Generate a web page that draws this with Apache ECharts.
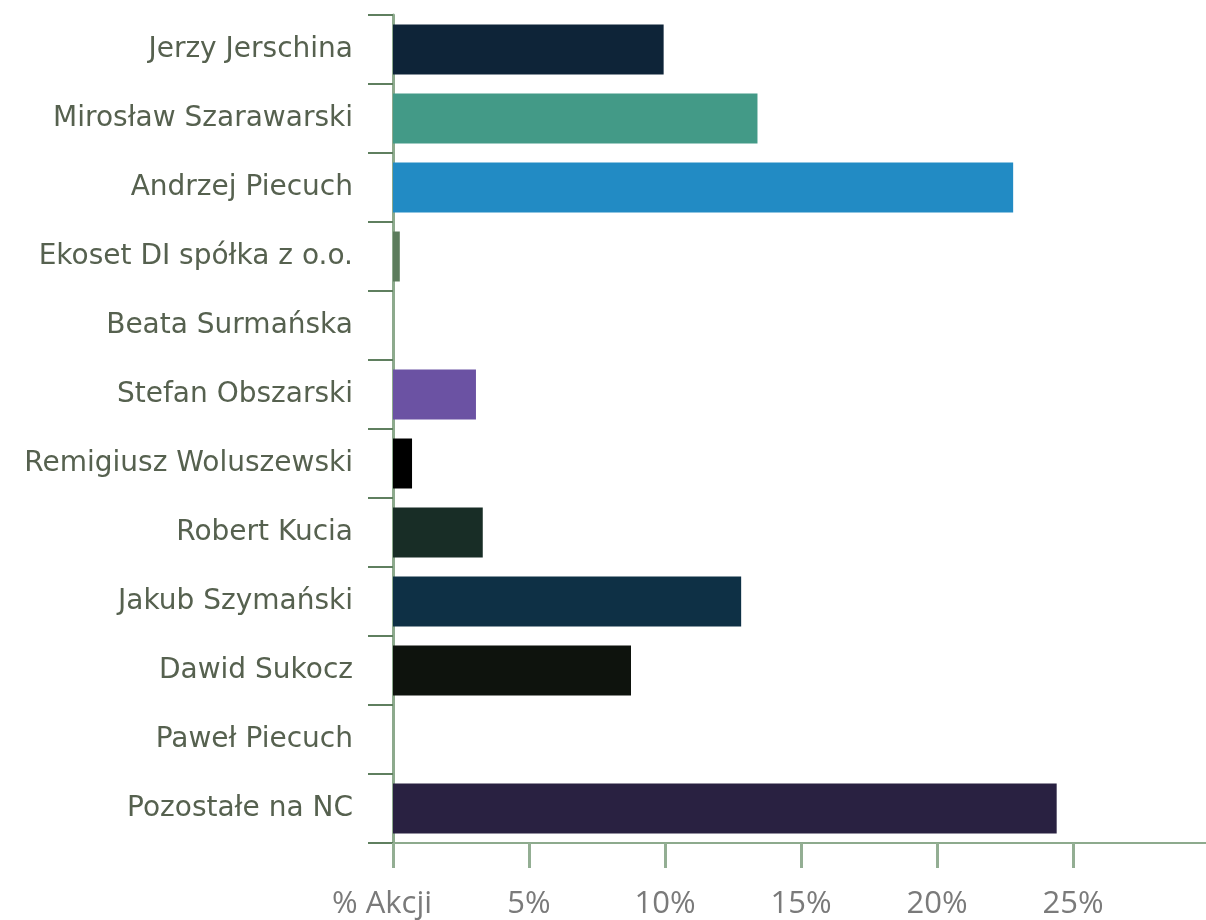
<!DOCTYPE html>
<html>
<head>
<meta charset="utf-8">
<script src="https://cdn.jsdelivr.net/npm/echarts@6/dist/echarts.min.js"></script>
<style>
  html, body { margin: 0; padding: 0; background: #fff; }
  #main { width: 1206px; height: 920px; }
</style>
</head>
<body>
<div id="main"></div>
<script>
// akcjonariusze
var names = ['Jerzy Jerschina', 'Mirosław Szarawarski', 'Andrzej Piecuch', 'Ekoset DI spółka z o.o.',
    'Beata Surmańska', 'Stefan Obszarski', 'Remigiusz Woluszewski', 'Robert Kucia',
    'Jakub Szymański', 'Dawid Sukocz', 'Paweł Piecuch', 'Pozostałe na NC'];
var shares = [9.95, 13.4, 22.8, 0.25, 0, 3.05, 0.7, 3.3, 12.8, 8.75, 0, 24.4];
var barColors = ['#0e2438', '#439a87', '#228bc4', '#5c7c5c', '#cccccc', '#6b52a3',
    '#000000', '#182d26', '#0e3045', '#0e130d', '#cccccc', '#292141'];
var tickLabels = { 0: '% Akcji', 5: '5%', 10: '10%', 15: '15%', 20: '20%', 25: '25%' };

var chart = echarts.init(document.getElementById('main'));

var option = {
    animation: false,
    grid: { left: 393, top: 15, width: 816, bottom: 77, containLabel: false, outerBoundsMode: 'none' },
    xAxis: {
        type: 'value',
        min: 0,
        max: 30,
        interval: 5,
        axisLine: { show: true, lineStyle: { color: '#8daa8d', width: 2 } },
        axisTick: { show: true, length: 25, lineStyle: { color: '#93ae93', width: 3 } },
        splitLine: { show: false },
        axisLabel: {
            margin: 46,
            fontFamily: '"Liberation Sans Narrow", "Open Sans", sans-serif',
            fontSize: 31,
            color: '#7a7a7a',
            formatter: function (v) {
                if (v === 0) return '{a|% Akcji}';
                return tickLabels[v] || '';
            },
            rich: {
                a: {
                    fontFamily: '"Liberation Sans Narrow", "Open Sans", sans-serif',
                    fontSize: 31,
                    color: '#7a7a7a',
                    padding: [0, 22, 0, 0]
                }
            }
        }
    },
    yAxis: {
        type: 'category',
        inverse: true,
        data: names,
        axisLine: { show: true, lineStyle: { color: '#8daa8d', width: 3 } },
        axisTick: { show: true, length: 25, lineStyle: { color: '#5f7f5f', width: 2 } },
        axisLabel: {
            margin: 40,
            fontFamily: '"DejaVu Sans", sans-serif',
            fontSize: 28,
            color: '#56614f'
        }
    },
    series: [{
        type: 'bar',
        barWidth: 50,
        data: shares.map(function (v, i) {
            return { value: v, itemStyle: { color: barColors[i] } };
        })
    }]
};

chart.setOption(option);
</script>
</body>
</html>
